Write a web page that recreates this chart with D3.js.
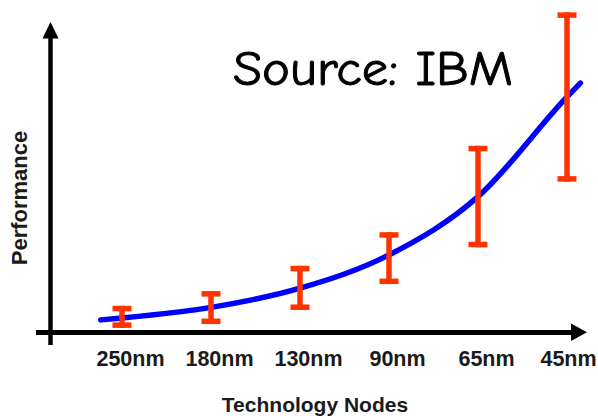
<!DOCTYPE html>
<html>
<head>
<meta charset="utf-8">
<script src="https://cdn.jsdelivr.net/npm/d3@7/dist/d3.min.js"></script>
<style>
  html, body { margin: 0; padding: 0; background: #ffffff; }
  svg { display: block; }
</style>
</head>
<body>
<svg id="chart" width="598" height="416"></svg>
<script>
// ---- data ----
const categories = ["250nm", "180nm", "130nm", "90nm", "65nm", "45nm"];
const rangeLow  = [1.6, 2.8, 7.2, 15.3, 26.8, 47.3];
const rangeHigh = [8.5, 13.1, 21.0, 31.5, 58.5, 100.2];
// trend curve (x in category-index units)
const trendIdx  = [-0.24, 0, 1, 2, 3, 4, 5, 5.15];
const trendVals = [4.1, 4.7, 8.0, 14.0, 24.4, 42.6, 73.8, 78.1];
const title = "Source: IBM";
const xTitle = "Technology Nodes";
const yTitle = "Performance";

// ---- chart ----
const svg = d3.select("#chart");
svg.append("rect").attr("width", 598).attr("height", 416).attr("fill", "#fff");

const x = d3.scaleLinear().domain([0, categories.length - 1]).range([122, 567]);
const y = d3.scaleLinear().domain([0, 100]).range([333, 13]);

// axes with arrows
svg.append("line")
  .attr("x1", 50.5).attr("x2", 50.5).attr("y1", 36).attr("y2", 345)
  .attr("stroke", "#000").attr("stroke-width", 4.5);
svg.append("path")
  .attr("d", "M42.5,38.5L58.5,38.5L50.5,22Z").attr("fill", "#000");
svg.append("line")
  .attr("x1", 36).attr("x2", 574).attr("y1", 332.5).attr("y2", 332.5)
  .attr("stroke", "#000").attr("stroke-width", 5);
svg.append("path")
  .attr("d", "M571,323.5L571,341L587,332.3Z").attr("fill", "#000");

// trend curve
const trend = trendIdx.map((t, i) => [t, trendVals[i]]);
svg.append("path")
  .datum(trend)
  .attr("fill", "none")
  .attr("stroke", "#0000ff")
  .attr("stroke-width", 5.5)
  .attr("stroke-linecap", "round")
  .attr("d", d3.line().x(d => x(d[0])).y(d => y(d[1])).curve(d3.curveMonotoneX));

// error bars
const red = "#ff3300";
const capW = 19, capH = 5.5, stemW = 5.5;
const bars = svg.append("g").selectAll("g")
  .data(categories.map((c, i) => ({ c, i, lo: rangeLow[i], hi: rangeHigh[i] })))
  .join("g");
bars.append("rect")
  .attr("x", d => x(d.i) - stemW / 2).attr("width", stemW)
  .attr("y", d => y(d.hi)).attr("height", d => y(d.lo) - y(d.hi))
  .attr("fill", red);
bars.append("rect")
  .attr("x", d => x(d.i) - capW / 2).attr("width", capW)
  .attr("y", d => y(d.hi)).attr("height", capH)
  .attr("fill", red);
bars.append("rect")
  .attr("x", d => x(d.i) - capW / 2).attr("width", capW)
  .attr("y", d => y(d.lo) - capH).attr("height", capH)
  .attr("fill", red);

// category labels via axis
const xAxis = d3.axisBottom(x)
  .tickValues(d3.range(categories.length))
  .tickFormat(i => categories[i])
  .tickSize(0);
const gx = svg.append("g").attr("transform", "translate(0,366)").call(xAxis);
gx.select(".domain").remove();
gx.selectAll("text")
  .attr("y", 0).attr("dy", null)
  .attr("dx", (d, i) => i < categories.length - 1 ? 8 : 1)
  .attr("font-family", "'Liberation Sans', Arial, Helvetica, sans-serif")
  .attr("font-weight", "bold")
  .attr("font-size", 21.5)
  .attr("fill", "#1a1a1a");

// titles
svg.append("text")
  .attr("x", 315).attr("y", 412)
  .attr("text-anchor", "middle")
  .attr("font-family", "'Liberation Sans', Arial, Helvetica, sans-serif")
  .attr("font-weight", "bold").attr("font-size", 21).attr("fill", "#1a1a1a")
  .text(xTitle);

svg.append("text")
  .attr("transform", "translate(26.5,198) rotate(-90)")
  .attr("text-anchor", "middle")
  .attr("font-family", "'Liberation Sans', Arial, Helvetica, sans-serif")
  .attr("font-weight", "bold").attr("font-size", 22).attr("fill", "#1a1a1a")
  .text(yTitle);

svg.append("text")
  .attr("x", 233).attr("y", 85)
  .attr("font-family", "'Comic Sans MS', 'Comic Neue', 'DejaVu Sans', sans-serif")
  .attr("font-size", 48).attr("fill", "#000")
  .attr("stroke", "#000").attr("stroke-width", 0.9)
  .attr("textLength", 280).attr("lengthAdjust", "spacingAndGlyphs")
  .text(title);
</script>
</body>
</html>
